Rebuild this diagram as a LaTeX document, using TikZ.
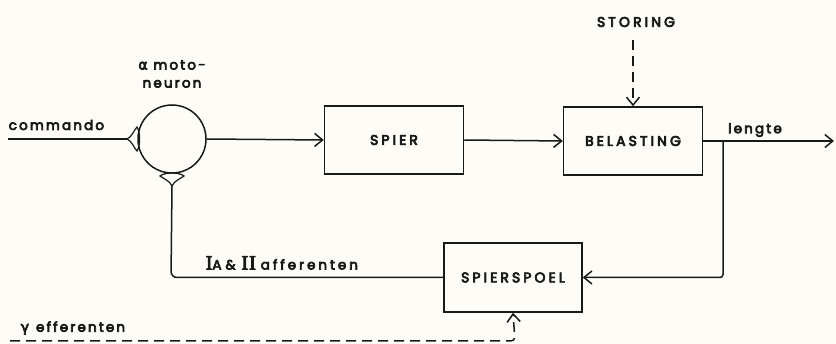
\documentclass[tikz,border=0pt]{standalone}
\usepackage{fontspec}
\usetikzlibrary{arrows.meta}
\setmainfont{Poppins}
\newfontfamily\lab[LetterSpace=16,FakeBold=5]{Poppins}
\newfontfamily\labw[LetterSpace=22,FakeBold=5]{Poppins}
\newfontfamily\labc[LetterSpace=22,FakeBold=5]{Poppins}
\newfontfamily\grk[FakeBold=5]{DejaVu Sans}
\newfontfamily\serifb[FakeBold=4]{Liberation Serif}
\definecolor{paper}{RGB}{253,252,247}
\definecolor{ink}{RGB}{25,25,25}
\begin{document}
\begin{tikzpicture}[x=1pt,y=-1pt,
  line width=1.5pt, draw=ink, text=ink,
  blk/.style={draw, minimum width=139pt, minimum height=68pt, inner sep=0pt,
    font=\labc\fontsize{14}{16}\selectfont},
  lbl/.style={font=\lab\fontsize{13.5}{18}\selectfont, inner sep=0pt},
  arr/.style={-{Straight Barb[length=8pt,width=13pt,line width=1.5pt]}},
  dsh/.style={dash pattern=on 10pt off 6pt}]
\fill[paper] (0,0) rectangle (836,344);
\useasboundingbox (0,0) rectangle (836,344);

% nodes
\node[circle, draw, minimum size=68pt, inner sep=0pt] (mn) at (172,139) {};
\node[blk] (spier) at (394,140) {SPIER};
\node[blk] (belast) at (633,141) {BELASTING};
\node[blk, minimum width=138pt, minimum height=69pt] (spool) at (513,277.5) {SPIERSPOEL};

% labels
\node[lbl, anchor=west] (cmd) at (8,125) {commando};
\node[lbl, align=center] (moto) at (172,74) {{\grk\fontsize{14}{18}\selectfont α} moto-\\neuron};
\node[lbl, font=\labc\fontsize{14}{16}\selectfont] (storing) at (636,22) {STORING};
\node[lbl] (lengte) at (755,130) {lengte};
\node[lbl, anchor=west] (ia) at (205,263) {{\serifb\fontsize{20}{20}\selectfont I}A\hspace{4pt}\&\hspace{6pt}{\serifb\fontsize{20}{20}\selectfont I\kern1pt I}\hspace{5pt}{\labw afferenten}};
\node[lbl, anchor=west] (gam) at (20,328) {{\grk\fontsize{14}{18}\selectfont γ}\hspace{7pt}efferenten};

% coordinates
\coordinate (cin) at (8,139);
\coordinate (syn1) at (127,139);
\coordinate (syn2) at (172,186);
\coordinate (out) at (834,141);
\coordinate (br) at (723,141);
\coordinate (brd) at (723,277.5);
\coordinate (fbl) at (171,277.5);
\coordinate (st0) at (633,40);
\coordinate (g0) at (10,341);
\coordinate (g1) at (515,341);

% synapses
\draw[line width=1.2pt] (127,139) .. controls (132,137) and (134,130) .. (137,127)
  .. controls (140.5,132) and (140.5,146) .. (137,151)
  .. controls (134,148) and (132,141) .. cycle;
\draw[line width=1.2pt] (172,186) .. controls (170,181) and (164,179) .. (160,176)
  .. controls (165,172) and (179,172) .. (184,176)
  .. controls (180,179) and (174,181) .. cycle;

% connectors
\draw (cin) -- (syn1);
\draw[arr] (mn.east) -- (spier.west);
\draw[arr] (spier.east) -- (belast.west);
\draw[arr] (belast.east) -- (out);
\draw[arr, rounded corners=3pt] (br) -- (brd) -- (spool.east);
\draw[rounded corners=6pt] (spool.west) -- (fbl) -- (syn2);
\draw[arr, dsh] (st0) -- (belast.north);
\draw[arr, dsh, rounded corners=4pt] (g0) -- (g1) -- (spool.south);
\end{tikzpicture}
\end{document}
